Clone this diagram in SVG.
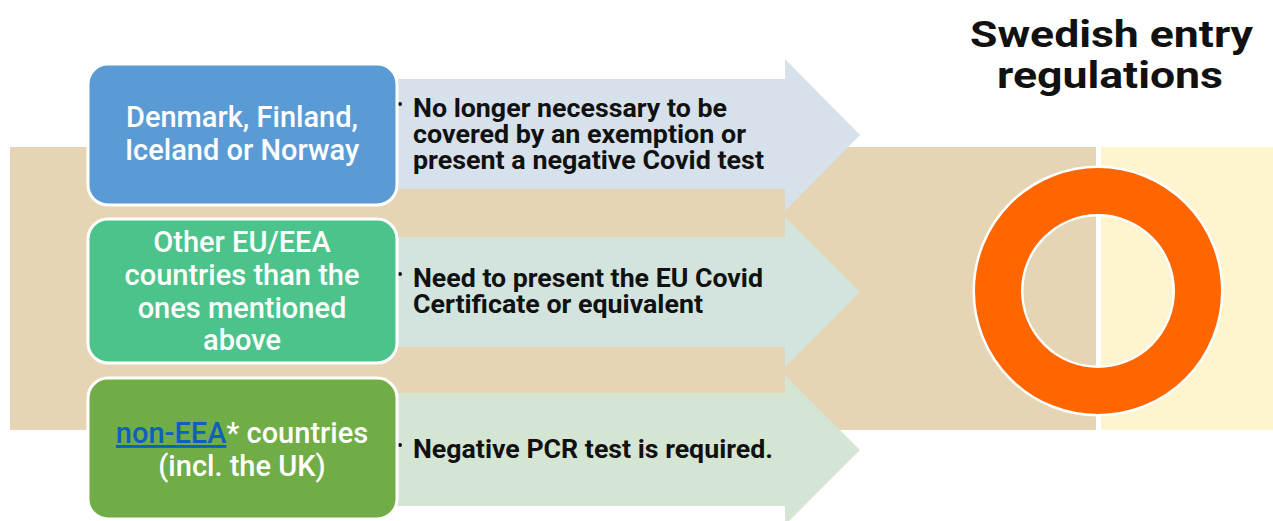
<svg xmlns="http://www.w3.org/2000/svg" width="1273" height="521" viewBox="0 0 1273 521">
<style>
.box{stroke:#ffffff;stroke-width:3}
.bt{font-family:Roboto,"Liberation Sans",sans-serif;font-weight:500;font-size:29px;fill:#ffffff;text-anchor:middle}
.at{font-family:Roboto,"Liberation Sans",sans-serif;font-weight:700;font-size:25.5px;fill:#111111}
.dot{fill:#111111}
.title{font-family:Roboto,"Liberation Sans",sans-serif;font-weight:700;font-size:37px;fill:#111111}
</style>
<rect width="1273" height="521" fill="#ffffff"/>
<g id="background">
<rect x="10" y="147" width="1086" height="283" fill="#E5D5B5"/>
<rect x="1101" y="147" width="172" height="283" fill="#FEF5D0"/>
</g>
<g id="ring">
<circle cx="1098" cy="291" r="100" fill="none" stroke="#ffffff" stroke-width="51"/>
<circle cx="1098" cy="291" r="100" fill="none" stroke="#FF6600" stroke-width="46"/>
</g>
<g id="title">
<text class="title" x="970" y="47" textLength="283" lengthAdjust="spacingAndGlyphs">Swedish entry</text>
<text class="title" x="997" y="88" textLength="226" lengthAdjust="spacingAndGlyphs">regulations</text>
</g>
<g id="connectors">
<polygon id="arrow1" points="380,79 785,79 785,59 860,135 785,211 785,189 380,189" fill="#D7E1EB"/>
<polygon id="arrow2" points="380,237 785,237 785,217 860,292 785,367 785,347 380,347" fill="#D3E4DE"/>
<polygon id="arrow3" points="380,393 785,393 785,375 860,450 785,525 785,506 380,506" fill="#D5E5D4"/>
</g>
<g id="text1">
<circle class="dot" cx="400" cy="104" r="2"/>
<text class="at" x="413" y="117" textLength="314" lengthAdjust="spacingAndGlyphs">No longer necessary to be</text>
<text class="at" x="413" y="143" textLength="333" lengthAdjust="spacingAndGlyphs">covered by an exemption or</text>
<text class="at" x="413" y="169" textLength="351" lengthAdjust="spacingAndGlyphs">present a negative Covid test</text>
</g>
<g id="text2">
<circle class="dot" cx="400" cy="274" r="2"/>
<text class="at" x="413" y="287" textLength="350" lengthAdjust="spacingAndGlyphs">Need to present the EU Covid</text>
<text class="at" x="413" y="313" textLength="290" lengthAdjust="spacingAndGlyphs">Certificate or equivalent</text>
</g>
<g id="text3">
<circle class="dot" cx="400" cy="445" r="2"/>
<text class="at" x="413" y="458" textLength="360" lengthAdjust="spacingAndGlyphs">Negative PCR test is required.</text>
</g>
<g id="box1">
<rect class="box" x="88" y="64" width="309" height="141" rx="20" fill="#5B9BD5"/>
<text class="bt" x="242" y="127">Denmark, Finland,</text>
<text class="bt" x="242" y="160">Iceland or Norway</text>
</g>
<g id="box2">
<rect class="box" x="88" y="219" width="309" height="144" rx="20" fill="#4CC38A"/>
<text class="bt" x="242" y="252">Other EU/EEA</text>
<text class="bt" x="242" y="285">countries than the</text>
<text class="bt" x="242" y="318">ones mentioned</text>
<text class="bt" x="242" y="350">above</text>
</g>
<g id="box3">
<rect class="box" x="88" y="378" width="309" height="141" rx="20" fill="#70AD47"/>
<text class="bt" x="242" y="443"><tspan fill="#0F5FC0" text-decoration="underline">non-EEA</tspan>* countries</text>
<text class="bt" x="242" y="476">(incl. the UK)</text>
</g>
</svg>
